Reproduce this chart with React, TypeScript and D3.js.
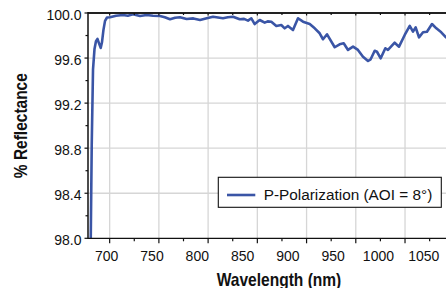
import React, { useRef, useEffect } from 'react'
import * as d3 from 'd3'

// wavelength (nm) and % reflectance
const wavelength = [
  680.0, 680.8, 681.8, 683.1, 684.6, 686.1, 687.6, 689.2, 690.9, 692.2, 693.7, 695.3, 697.3,
  700.3, 706.5, 713.5, 718.5, 723.7, 730.8, 737.6, 744.0, 751.1, 756.0, 761.3, 766.5, 771.4,
  778.2, 785.0, 791.8, 798.6, 805.0, 810.0, 815.1, 820.0, 825.3, 832.1, 836.5, 840.5, 843.9,
  847.3, 852.4, 857.5, 860.5, 864.2, 869.3, 874.3, 877.8, 881.1, 886.2, 891.3, 896.4, 903.2,
  908.3, 913.3, 916.7, 920.8, 928.6, 933.6, 937.7, 942.1, 947.2, 952.2, 957.3, 962.4, 965.1,
  969.2, 971.5, 975.3, 980.0, 982.7, 989.5, 993.9, 999.7, 1004.8, 1008.1, 1010.8, 1014.2,
  1018.3, 1022.3, 1027.4, 1031.8, 1036.8, 1041.6, 1046.0,
]
const reflectance = [
  97.6, 98.0, 98.84, 99.5, 99.68, 99.75, 99.77, 99.73, 99.69, 99.74, 99.85, 99.93, 99.96,
  99.962, 99.975, 99.982, 99.976, 99.988, 99.973, 99.982, 99.976, 99.973, 99.962, 99.944, 99.958, 99.962,
  99.947, 99.952, 99.938, 99.953, 99.967, 99.96, 99.953, 99.962, 99.967, 99.944, 99.948, 99.932, 99.953,
  99.902, 99.938, 99.914, 99.926, 99.923, 99.885, 99.893, 99.864, 99.885, 99.849, 99.953, 99.923, 99.902,
  99.864, 99.82, 99.767, 99.811, 99.696, 99.722, 99.731, 99.672, 99.701, 99.672, 99.612, 99.574, 99.589,
  99.665, 99.656, 99.598, 99.687, 99.672, 99.736, 99.701, 99.805, 99.885, 99.834, 99.873, 99.784,
  99.829, 99.834, 99.902, 99.864, 99.829, 99.784, 99.8,
]

const xTickLabels = ['700', '750', '800', '850', '900', '950', '1000', '1050']
const yTicks = [98.0, 98.4, 98.8, 99.2, 99.6, 100.0]
const seriesName = 'P-Polarization (AOI = 8°)'

export default function App() {
  const svgRef = useRef<SVGSVGElement>(null)
  const width = 446
  const height = 288

  useEffect(() => {
    if (!svgRef.current) return
    const svg = d3.select(svgRef.current)
    svg.selectAll('*').remove()

    const left = 88, right = 470, top = 13, bottom = 238.3
    const blue = '#3a55a6'
    const grid = '#d6d6d6'
    const font = "'Liberation Sans', Arial, sans-serif"

    const x = d3.scaleLinear().domain([678, 1066]).range([left, right])
    const y = d3.scaleLinear().domain([98, 100]).range([bottom, top])
    // tick labels in the source sit on their own, evenly spaced run
    const xl = d3.scalePoint().domain(xTickLabels).range([x(697), x(1019)])

    const major = d3.range(700, 1051, 50)
    const minor = d3.range(725, 1051, 50)
    const yMinor = d3.range(98.2, 100, 0.4)

    svg.append('defs').append('clipPath').attr('id', 'plot-clip')
      .append('rect').attr('x', left).attr('y', top)
      .attr('width', right - left).attr('height', bottom - top)

    // grid
    svg.append('g').selectAll('line').data(major).enter().append('line')
      .attr('x1', d => x(d)).attr('x2', d => x(d))
      .attr('y1', top).attr('y2', bottom)
      .attr('stroke', grid).attr('stroke-width', 1.3)
    svg.append('g').selectAll('line').data(yTicks.slice(1, -1)).enter().append('line')
      .attr('x1', left).attr('x2', right)
      .attr('y1', d => y(d)).attr('y2', d => y(d))
      .attr('stroke', grid).attr('stroke-width', 1.3)

    // data line
    const pts = wavelength.map((w, i) => [w, reflectance[i]] as [number, number])
    const line = d3.line<[number, number]>().x(d => x(d[0])).y(d => y(d[1]))
    svg.append('path').datum(pts)
      .attr('clip-path', 'url(#plot-clip)')
      .attr('d', line)
      .attr('fill', 'none').attr('stroke', blue).attr('stroke-width', 2.6)
      .attr('stroke-linejoin', 'round')

    // frame
    svg.append('line').attr('x1', left).attr('x2', right).attr('y1', top).attr('y2', top)
      .attr('stroke', '#222').attr('stroke-width', 1.8)
    svg.append('line').attr('x1', left).attr('x2', right).attr('y1', bottom).attr('y2', bottom)
      .attr('stroke', '#111').attr('stroke-width', 1.3)
    svg.append('line').attr('x1', left).attr('x2', left).attr('y1', top - 0.9).attr('y2', bottom + 0.6)
      .attr('stroke', '#111').attr('stroke-width', 1.5)

    // x ticks bottom and top, y ticks left
    const tk = svg.append('g').attr('stroke', '#111').attr('stroke-width', 1.2)
    major.forEach(d => {
      tk.append('line').attr('x1', x(d)).attr('x2', x(d)).attr('y1', bottom).attr('y2', bottom + 5)
      tk.append('line').attr('x1', x(d)).attr('x2', x(d)).attr('y1', top).attr('y2', top + 2.5)
    })
    minor.forEach(d => {
      tk.append('line').attr('x1', x(d)).attr('x2', x(d)).attr('y1', bottom).attr('y2', bottom + 3)
      tk.append('line').attr('x1', x(d)).attr('x2', x(d)).attr('y1', top).attr('y2', top + 2)
    })
    yTicks.forEach(d => {
      tk.append('line').attr('x1', left - 3.5).attr('x2', left).attr('y1', y(d)).attr('y2', y(d))
    })
    yMinor.forEach(d => {
      tk.append('line').attr('x1', left - 2.5).attr('x2', left).attr('y1', y(d)).attr('y2', y(d))
    })

    // tick labels
    svg.append('g').selectAll('text').data(xTickLabels).enter().append('text')
      .attr('x', d => xl(d) as number).attr('y', 260.7)
      .attr('text-anchor', 'middle').attr('font-family', font).attr('font-size', 14)
      .attr('fill', '#111').text(d => d)
    svg.append('g').selectAll('text').data(yTicks).enter().append('text')
      .attr('x', 81.5).attr('y', d => y(d)).attr('dy', '0.5em')
      .attr('text-anchor', 'end').attr('font-family', font).attr('font-size', 14)
      .attr('fill', '#111').text(d => d.toFixed(1))

    // axis titles (condensed bold in the source)
    svg.append('text')
      .attr('transform', `translate(27,${(top + bottom) / 2}) rotate(-90)`)
      .attr('text-anchor', 'middle').attr('font-family', font).attr('font-weight', 'bold')
      .attr('font-size', 18.5).attr('fill', '#111')
      .attr('textLength', 105).attr('lengthAdjust', 'spacingAndGlyphs')
      .text('% Reflectance')
    svg.append('text')
      .attr('x', (left + right) / 2).attr('y', 285.5)
      .attr('text-anchor', 'middle').attr('font-family', font).attr('font-weight', 'bold')
      .attr('font-size', 18.5).attr('fill', '#111')
      .attr('textLength', 124.6).attr('lengthAdjust', 'spacingAndGlyphs')
      .text('Wavelength (nm)')

    // legend
    const lg = svg.append('g').attr('transform', 'translate(218.3,177.3)')
    lg.append('rect').attr('width', 223).attr('height', 30)
      .attr('fill', '#fff').attr('stroke', '#111').attr('stroke-width', 1.1)
    lg.append('line').attr('x1', 8.7).attr('x2', 37).attr('y1', 17.7).attr('y2', 17.7)
      .attr('stroke', blue).attr('stroke-width', 2.6)
    lg.append('text').attr('x', 45.4).attr('y', 22.7)
      .attr('font-family', font).attr('font-size', 15.5).attr('fill', '#111')
      .attr('textLength', 168.6).attr('lengthAdjust', 'spacingAndGlyphs')
      .text(seriesName)
  }, [])

  return (
    <svg ref={svgRef} width={width} height={height}
      style={{ position: 'absolute', left: 0, top: 0, background: '#fff' }} />
  )
}
